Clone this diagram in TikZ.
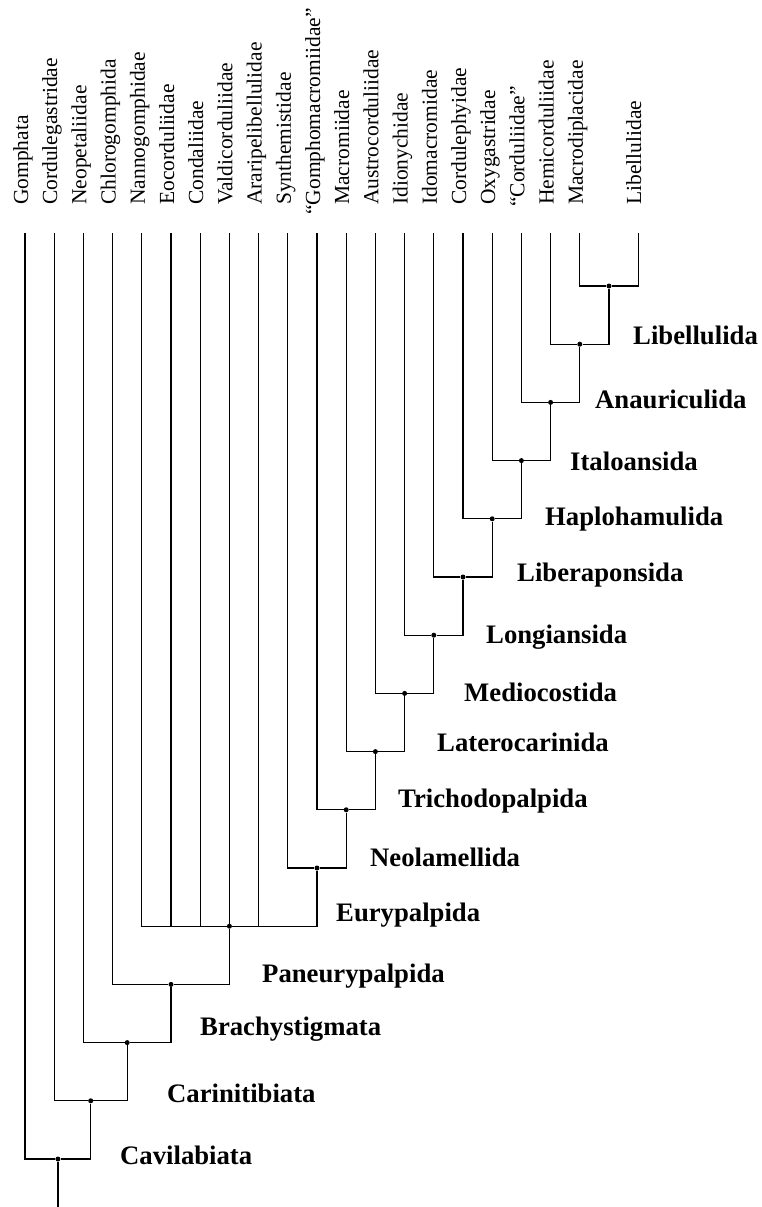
\documentclass[tikz,border=0pt]{standalone}
\usepackage{fontspec}
\setmainfont{Liberation Serif}
\usetikzlibrary{positioning}

\begin{document}
\begin{tikzpicture}[
        x=1pt, y=-1pt,
        % styles of the tree
        taxon/.style={rotate=90, anchor=west, inner sep=0pt, text height=10.5pt, text depth=4.5pt, font=\fontsize{21.5}{24}\selectfont},
        clade/.style={anchor=base west, inner sep=0pt, font=\fontsize{26.7}{30}\selectfont\bfseries},
        junction/.style={circle, fill=black, inner sep=0pt, minimum size=5pt},
        branch/.style={line width=1.3pt, draw=black}
    ]
    \useasboundingbox (0,0) rectangle (762,1207);

    % Terminal taxa
    \node[taxon] (gom) at (25.0,205) {Gomphata};
    \node[taxon] (cor) at (54.2,205) {Cordulegastridae};
    \node[taxon] (neo) at (83.4,205) {Neopetaliidae};
    \node[taxon] (chl) at (112.6,205) {Chlorogomphida};
    \node[taxon] (nan) at (141.8,205) {Nannogomphidae};
    \node[taxon] (eoc) at (171.0,205) {Eocorduliidae};
    \node[taxon] (con) at (200.2,205) {Condaliidae};
    \node[taxon] (val) at (229.4,205) {Valdicorduliidae};
    \node[taxon] (ara) at (258.6,205) {Araripelibellulidae};
    \node[taxon] (syn) at (287.8,205) {Synthemistidae};
    \node[taxon] (gmc) at (317.0,215) {“Gomphomacromiidae”};
    \node[taxon] (mac) at (346.2,205) {Macromiidae};
    \node[taxon] (aus) at (375.4,205) {Austrocorduliidae};
    \node[taxon] (idi) at (404.6,205) {Idionychidae};
    \node[taxon] (ido) at (433.8,205) {Idomacromidae};
    \node[taxon] (cph) at (463.0,205) {Cordulephyidae};
    \node[taxon] (oxy) at (492.2,205) {Oxygastridae};
    \node[taxon] (crd) at (521.4,207) {“Corduliidae”};
    \node[taxon] (hem) at (550.6,205) {Hemicorduliidae};
    \node[taxon] (mdp) at (579.8,205) {Macrodiplacidae};
    \node[taxon] (lib) at (638.2,205) {Libellulidae};

    % Top of the branches and foot of the root
    \coordinate (top) at (0,233);
    \coordinate (root) at (57.9,1207);

    % Junctions
    \node[junction] (n0) at (609.0,286.0) {};
    \node[junction] (n-libellulida) at (579.8,344.2) {};
    \node[junction] (n-anauriculida) at (550.6,402.4) {};
    \node[junction] (n-italoansida) at (521.4,460.6) {};
    \node[junction] (n-haplohamulida) at (492.2,518.8) {};
    \node[junction] (n-liberaponsida) at (463.0,577.0) {};
    \node[junction] (n-longiansida) at (433.8,635.2) {};
    \node[junction] (n-mediocostida) at (404.6,693.4) {};
    \node[junction] (n-laterocarinida) at (375.4,751.6) {};
    \node[junction] (n-trichodopalpida) at (346.2,809.8) {};
    \node[junction] (n-neolamellida) at (317.0,868.0) {};
    \node[junction] (n-eurypalpida) at (229.4,926.2) {};
    \node[junction] (n-paneurypalpida) at (171.0,984.4) {};
    \node[junction] (n-brachystigmata) at (127.2,1042.6) {};
    \node[junction] (n-carinitibiata) at (90.7,1100.8) {};
    \node[junction] (n-cavilabiata) at (57.9,1159.0) {};

    % Clade names
    \node[clade] (libellulida) at (633,344) {Libellulida};
    \node[clade] (anauriculida) at (595,408) {Anauriculida};
    \node[clade] (italoansida) at (570,470) {Italoansida};
    \node[clade] (haplohamulida) at (545,525) {Haplohamulida};
    \node[clade] (liberaponsida) at (517,581) {Liberaponsida};
    \node[clade] (longiansida) at (486,643) {Longiansida};
    \node[clade] (mediocostida) at (464,701) {Mediocostida};
    \node[clade] (laterocarinida) at (437,751) {Laterocarinida};
    \node[clade] (trichodopalpida) at (398,807) {Trichodopalpida};
    \node[clade] (neolamellida) at (370,866) {Neolamellida};
    \node[clade] (eurypalpida) at (336,921) {Eurypalpida};
    \node[clade] (paneurypalpida) at (262,982) {Paneurypalpida};
    \node[clade] (brachystigmata) at (200,1035) {Brachystigmata};
    \node[clade] (carinitibiata) at (167,1102) {Carinitibiata};
    \node[clade] (cavilabiata) at (120,1164) {Cavilabiata};

    % ---------------- BRANCHES ---------------- %

    \draw[branch] (mdp.west |- top) |- (n0) -| (lib.west |- top);
    \draw[branch] (hem.west |- top) |- (n-libellulida) -| (n0);
    \draw[branch] (crd.west |- top) |- (n-anauriculida) -| (n-libellulida);
    \draw[branch] (oxy.west |- top) |- (n-italoansida) -| (n-anauriculida);
    \draw[branch] (cph.west |- top) |- (n-haplohamulida) -| (n-italoansida);
    \draw[branch] (ido.west |- top) |- (n-liberaponsida) -| (n-haplohamulida);
    \draw[branch] (idi.west |- top) |- (n-longiansida) -| (n-liberaponsida);
    \draw[branch] (aus.west |- top) |- (n-mediocostida) -| (n-longiansida);
    \draw[branch] (mac.west |- top) |- (n-laterocarinida) -| (n-mediocostida);
    \draw[branch] (gmc.west |- top) |- (n-trichodopalpida) -| (n-laterocarinida);
    \draw[branch] (syn.west |- top) |- (n-neolamellida) -| (n-trichodopalpida);

    % Polytomy of Eurypalpida
    \draw[branch] (nan.west |- top) |- (n-eurypalpida) -| (n-neolamellida);
    \draw[branch] (eoc.west |- top) -- (eoc.west |- n-eurypalpida);
    \draw[branch] (con.west |- top) -- (con.west |- n-eurypalpida);
    \draw[branch] (val.west |- top) -- (n-eurypalpida);
    \draw[branch] (ara.west |- top) -- (ara.west |- n-eurypalpida);

    \draw[branch] (chl.west |- top) |- (n-paneurypalpida) -| (n-eurypalpida);
    \draw[branch] (neo.west |- top) |- (n-brachystigmata) -| (n-paneurypalpida);
    \draw[branch] (cor.west |- top) |- (n-carinitibiata) -| (n-brachystigmata);
    \draw[branch] (gom.west |- top) |- (n-cavilabiata) -| (n-carinitibiata);

    % Root
    \draw[branch] (n-cavilabiata) -- (root);

\end{tikzpicture}
\end{document}
